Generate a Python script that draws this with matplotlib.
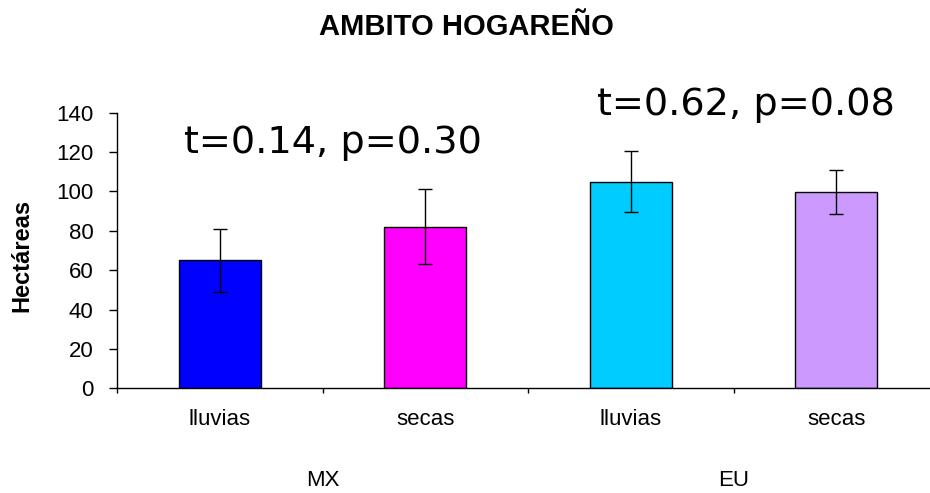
import matplotlib
matplotlib.use("Agg")
import matplotlib.pyplot as plt
import numpy as np

# data
grupos = ["MX", "EU"]
temporadas = ["lluvias", "secas", "lluvias", "secas"]
hectareas = [65, 82, 105, 99.5]
error = [16, 19, 15.3, 11.2]
colores = ["#0000FF", "#FF00FF", "#00CCFF", "#CC99FF"]
pruebas = ["t=0.14, p=0.30", "t=0.62, p=0.08"]

plt.rcParams['font.family'] = ['Liberation Sans', 'DejaVu Sans']

fig = plt.figure(figsize=(9.3, 4.93), dpi=100)
ax = fig.add_axes([117 / 930, 1 - 388.3 / 493, 822 / 930, 275.6 / 493])

x = np.arange(len(hectareas)) + 0.5
ax.bar(x, hectareas, width=0.4, color=colores, edgecolor='black', linewidth=1.0, zorder=2)
ax.errorbar(x, hectareas, yerr=error, fmt='none', ecolor='black', elinewidth=1.0,
            capsize=4.7, capthick=1.0, zorder=3)

ax.set_xlim(0, 4)
ax.set_ylim(0, 140)
ax.set_yticks(np.arange(0, 141, 20))
ax.tick_params(axis='y', direction='out', length=6, width=1, pad=11, labelsize=16)

# group separator ticks on the x axis
ax.set_xticks([0, 1, 2, 3, 4])
ax.set_xticklabels([])
for tk, ln in zip(ax.xaxis.get_major_ticks(), [13, 6.5, 9, 6.5, 9]):
    tk.tick1line.set_markersize(ln)
ax.tick_params(axis='x', which='major', direction='out', width=1)
ax.set_xticks(x, minor=True)
ax.set_xticklabels(temporadas, minor=True)
ax.tick_params(axis='x', which='minor', length=0, pad=15, labelsize=16)

for g, nombre in enumerate(grupos):
    ax.text(2 * g + 1, -0.333, nombre, transform=ax.get_xaxis_transform(),
            ha='center', va='center', fontsize=16)

for sp in ['top', 'right']:
    ax.spines[sp].set_visible(False)
for sp in ['left', 'bottom']:
    ax.spines[sp].set_linewidth(1.0)

ax.text(1.05, 124.6, pruebas[0], ha='center', va='center', fontsize=27.5,
        family='DejaVu Sans', clip_on=False)
ax.text(3.06, 143.9, pruebas[1], ha='center', va='center', fontsize=27.5,
        family='DejaVu Sans', clip_on=False)

fig.text(466 / 930, 1 - 27 / 493, "AMBITO HOGAREÑO", ha='center', va='center',
         fontsize=21, fontweight='bold')
fig.text(22 / 930, 1 - 255 / 493, "Hectáreas", rotation=90, ha='center', va='center',
         fontsize=17, fontweight='bold')

fig.savefig("out.png", dpi=100)
